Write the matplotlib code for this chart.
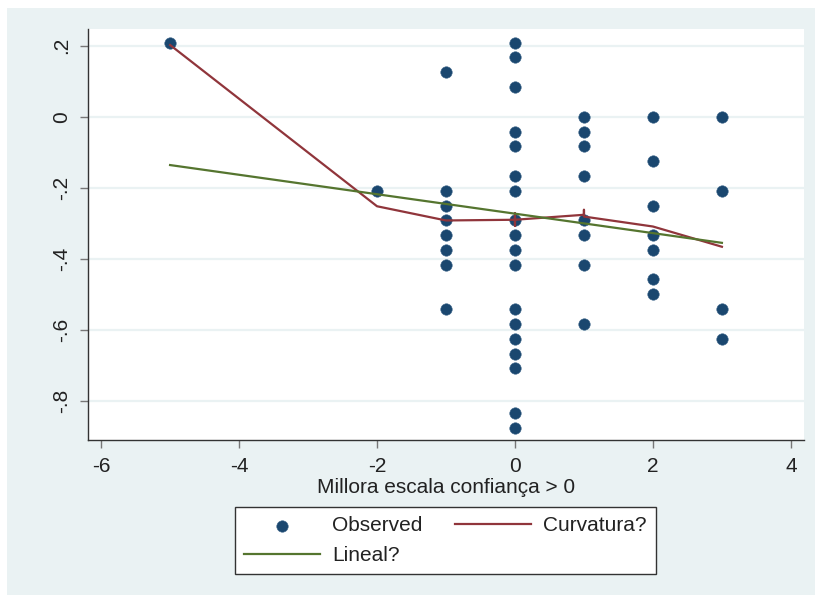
import matplotlib
matplotlib.use('Agg')
import matplotlib.pyplot as plt
from matplotlib.patches import Rectangle

plt.rcParams['font.family'] = ['Liberation Sans', 'DejaVu Sans']

# observed points (x, y)
obs_x = ([-5] + [-2]
         + [-1] * 8
         + [0] * 18
         + [1] * 8
         + [2] * 7
         + [3] * 4)
obs_y = ([0.208] + [-0.208]
         + [0.125, -0.208, -0.25, -0.292, -0.333, -0.375, -0.417, -0.542]
         + [0.208, 0.167, 0.083, -0.042, -0.083, -0.167, -0.208, -0.292, -0.333,
            -0.375, -0.417, -0.542, -0.583, -0.625, -0.667, -0.708, -0.833, -0.875]
         + [0.0, -0.042, -0.083, -0.167, -0.292, -0.333, -0.417, -0.583]
         + [0.0, -0.125, -0.25, -0.333, -0.375, -0.458, -0.5]
         + [0.0, -0.208, -0.542, -0.625])

# "Curvatura?" fitted line
curv_x = [-5, -2, -1, 0, 0, 0, 0, 1, 1, 1, 2, 3]
curv_y = [0.202, -0.252, -0.292, -0.29, -0.307, -0.272, -0.29, -0.276, -0.262, -0.281, -0.309, -0.366]

# "Lineal?" fitted line
lin_x = [-5, 3]
lin_y = [-0.136, -0.355]

xticks = [-6, -4, -2, 0, 2, 4]
yticks = [0.2, 0, -0.2, -0.4, -0.6, -0.8]
ytick_labels = ['.2', '0', '-.2', '-.4', '-.6', '-.8']

navy = '#1a476f'
maroon = '#90353b'
green = '#55752f'
bg = '#eaf2f3'

W, H = 815, 595
fig = plt.figure(figsize=(W / 100, H / 100), dpi=100, facecolor='white')
fig.patches.append(Rectangle((7 / W, 0), 1 - 7 / W, 1 - 8 / H, transform=fig.transFigure,
                             facecolor=bg, edgecolor='none', zorder=-10))

ax = fig.add_axes([88 / W, 1 - 440 / H, (804 - 88) / W, (440 - 29) / H])
ax.set_facecolor('white')

ax.grid(axis='y', color=bg, linewidth=1.6, zorder=0)
ax.set_axisbelow(True)

pts = ax.scatter(obs_x, obs_y, s=68, color=navy, edgecolors='#3a6388', linewidths=0.4,
                 zorder=3, label='Observed')
l_curv, = ax.plot(curv_x, curv_y, color=maroon, linewidth=1.6, zorder=4, label='Curvatura?')
l_lin, = ax.plot(lin_x, lin_y, color=green, linewidth=1.6, zorder=4, label='Lineal?')

ax.set_xlim(-6.19, 4.19)
ax.set_ylim(-0.91, 0.247)
ax.set_xticks(xticks)
ax.set_xticklabels([str(t) for t in xticks])
ax.set_yticks(yticks)
ax.set_yticklabels(ytick_labels, rotation=90, va='center')

for s in ['top', 'right']:
    ax.spines[s].set_visible(False)
for s in ['left', 'bottom']:
    ax.spines[s].set_color('#333333')
    ax.spines[s].set_linewidth(1.0)

ax.tick_params(axis='both', length=6, width=1, color='#777777', labelsize=15,
               labelcolor='#222222', pad=6)

ax.set_xlabel('Millora escala confiança > 0', fontsize=15, color='#222222', labelpad=2)

leg = fig.legend([pts, l_lin, l_curv], ['Observed', 'Lineal?', 'Curvatura?'],
                 ncol=2, loc='upper center', bbox_to_anchor=(445.5 / W, 1 - 507 / H),
                 fontsize=15, frameon=True, fancybox=False, shadow=False, framealpha=1,
                 facecolor='white',
                 handlelength=3.65, handletextpad=0.58, columnspacing=1.58,
                 labelspacing=0.5, borderpad=0.45, borderaxespad=0, scatterpoints=1)
leg.get_frame().set_edgecolor('#333333')
leg.get_frame().set_linewidth(1.0)
for t in leg.get_texts():
    t.set_color('#222222')

fig.savefig('out.png', dpi=100, facecolor=fig.get_facecolor())
